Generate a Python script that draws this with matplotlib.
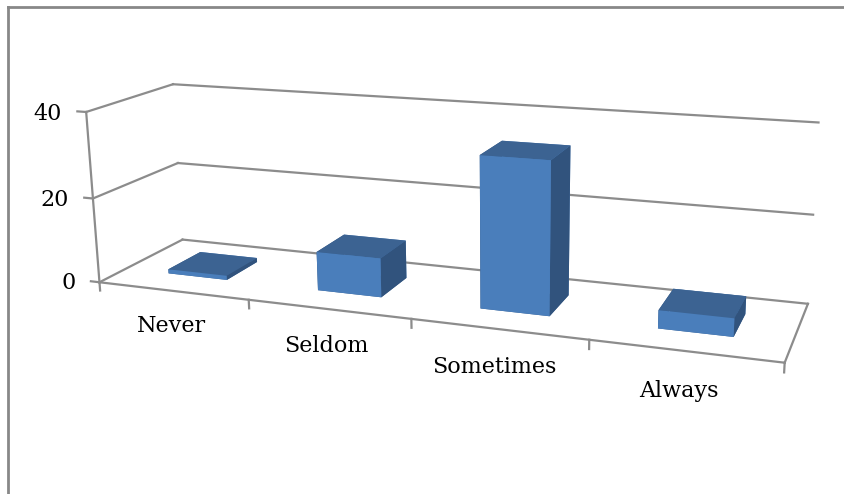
import numpy as np
import matplotlib
matplotlib.use("Agg")
import matplotlib.pyplot as plt
from matplotlib.lines import Line2D

categories = ["Never", "Seldom", "Sometimes", "Always"]
values = [1, 9, 34, 4]
z_ticks = [0, 20, 40]

GRID = "#8c8c8c"
FACE_FRONT = "#4a7ebb"
FACE_TOP = "#3c6392"
FACE_SIDE = "#31537d"
FONT = "DejaVu Serif"

fig = plt.figure(figsize=(8.45, 4.94), dpi=100)
ax = fig.add_axes([12 / 845, 34 / 494, 1.0, 1.0], projection="3d", computed_zorder=False)
ax.set_proj_type("persp", focal_length=0.53)
ax.view_init(elev=15, azim=-69, roll=0.7)
ax.set_box_aspect((4, 0.95, 1.03), zoom=1.47)

n = len(categories)
ax.set_xlim(0, n)
ax.set_ylim(0, 1)
ax.set_zlim(0, 40)
ax.set_axis_off()

lw = 1.6
line_kw = dict(color=GRID, lw=lw, zorder=1, clip_on=False)
# gridlines on the back wall and the left wall
for z in z_ticks:
    ax.plot([0, n], [1, 1], [z, z], **line_kw)
    ax.plot([0, 0], [0, 1], [z, z], **line_kw)
    ax.plot([-0.06, 0], [0, 0], [z, z], **line_kw)
    ax.text(-0.17, 0, z - 0.8, str(z), ha="right", va="center",
            fontsize=16, family=FONT, color="black")

# floor outline and vertical axis
ax.plot([0, n], [0, 0], [0, 0], **line_kw)
ax.plot([n, n], [0, 1], [0, 0], **line_kw)
ax.plot([0, 0], [0, 0], [0, 40], **line_kw)
for b in range(n + 1):
    ax.plot([b, b], [0, 0], [0, -2], **line_kw)

# bars
xs = np.arange(n) + 0.3
face_colors = [FACE_TOP, FACE_TOP, FACE_FRONT, FACE_FRONT, FACE_SIDE, FACE_SIDE] * n
bars = ax.bar3d(xs, np.full(n, 0.3), np.zeros(n), 0.4, 0.4, values,
                color=face_colors, shade=False, zorder=5)
bars.set_clip_on(False)

for i, cat in enumerate(categories):
    ax.text(i + 0.48, 0, -8.5, cat, ha="center", va="center",
            fontsize=16, family=FONT, color="black")

# chart-area border (left and top edges)
fig.add_artist(Line2D([0.009, 0.009], [0, 0.986], transform=fig.transFigure,
                      color="#888888", lw=2))
fig.add_artist(Line2D([0.009, 1.0], [0.986, 0.986], transform=fig.transFigure,
                      color="#888888", lw=2))

fig.savefig("out.png", dpi=100, facecolor="white")
